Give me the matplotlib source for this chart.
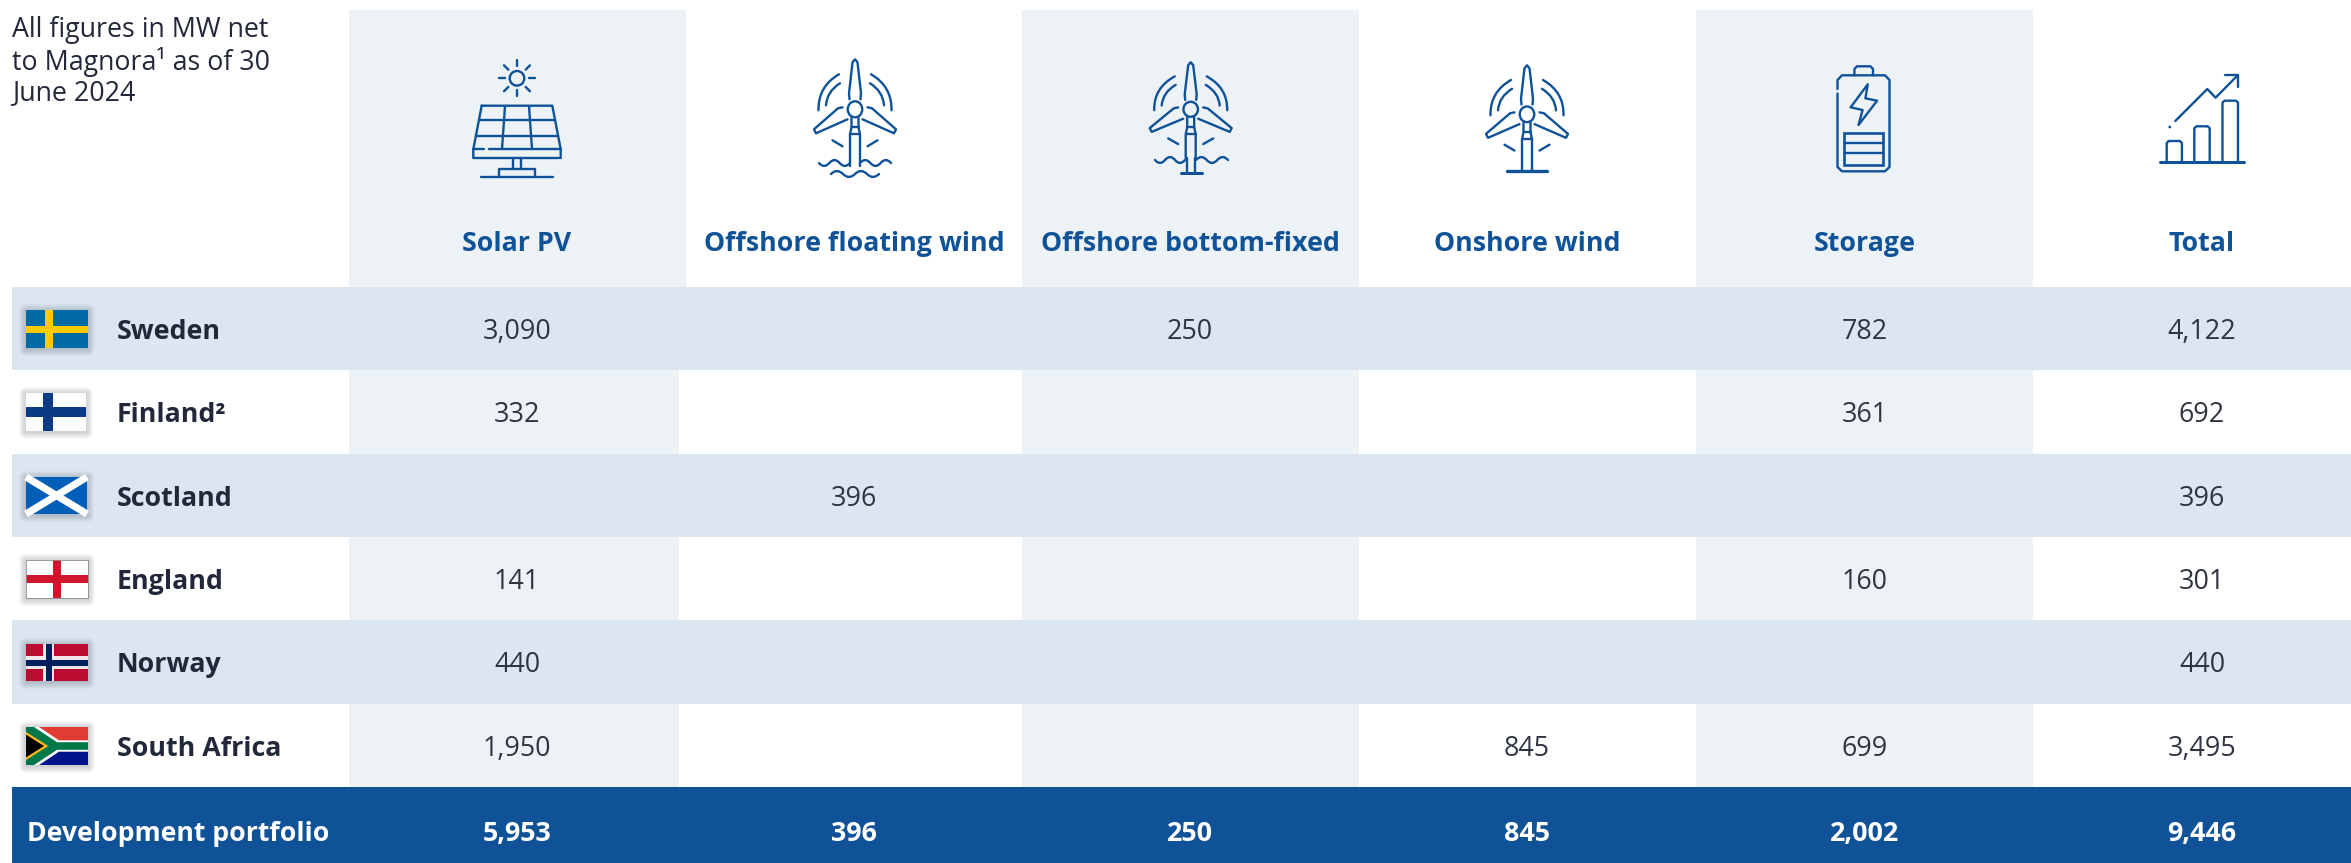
import matplotlib
matplotlib.use("Agg")
import matplotlib.pyplot as plt
from matplotlib.patches import Rectangle, Polygon, Ellipse, Circle, PathPatch, FancyBboxPatch
from matplotlib.path import Path

plt.rcParams['font.family'] = ['Open Sans', 'DejaVu Sans']

columns = ["Solar PV", "Offshore floating wind", "Offshore bottom-fixed", "Onshore wind", "Storage", "Total"]
countries = ["Sweden", "Finland²", "Scotland", "England", "Norway", "South Africa"]
solar = [3090, 332, None, 141, 440, 1950]
floating = [None, None, 396, None, None, None]
bottom = [250, None, None, None, None, None]
onshore = [None, None, None, None, None, 845]
storage = [782, 361, None, 160, None, 699]
total = [4122, 692, 396, 301, 440, 3495]
portfolio_label = "Development portfolio"
portfolio = [5953, 396, 250, 845, 2002, 9446]
note = "All figures in MW net\nto Magnora¹ as of 30\nJune 2024"

W, H = 2351, 863
BLUE = '#0F5298'
INK = '#22283A'
HEAD = '#EDF2F7'
STRIPE = '#DCE6F0'
LW = 1.7

fig = plt.figure(figsize=(W / 100, H / 100), dpi=100)
ax = fig.add_axes([0, 0, 1, 1])
ax.set_xlim(0, W)
ax.set_ylim(H, 0)
ax.axis('off')

col_cx = [517, 854, 1190, 1527, 1865, 2202]
row_edges = [287, 370, 454, 537, 620, 704, 787]
head_bands = [(349, 686), (1022, 1359), (1696, 2033)]
row_bands = [(349, 679), (1022, 1359), (1696, 2033)]

for a, b in head_bands:
    ax.add_patch(Rectangle((a, 10), b - a, 277, fc=HEAD, ec='none', zorder=1))
for a, b in row_bands:
    ax.add_patch(Rectangle((a, 287), b - a, 500, fc=HEAD, ec='none', zorder=1))
for i in range(0, 6, 2):
    ax.add_patch(Rectangle((12, row_edges[i]), W - 12, row_edges[i + 1] - row_edges[i], fc=STRIPE, ec='none', zorder=2))
ax.add_patch(Rectangle((12, 787), W - 12, 76, fc=BLUE, ec='none', zorder=2))

ax.text(12, 16, note, fontsize=19.3, color=INK, va='top', ha='left', linespacing=1.11, zorder=5)

for name, x in zip(columns, col_cx):
    ax.text(x, 244, name, fontsize=19.3, fontweight='bold', color=BLUE, ha='center', va='center', zorder=5)

series = [solar, floating, bottom, onshore, storage, total]
for r, c in enumerate(countries):
    y = (row_edges[r] + row_edges[r + 1]) / 2 + 3
    ax.text(117, y, c, fontsize=19.3, fontweight='bold', color=INK, ha='left', va='center', zorder=5)
    for s, x in zip(series, col_cx):
        if s[r] is not None:
            ax.text(x, y, f"{s[r]:,}", fontsize=19.4, color='#2E3440', ha='center', va='center', zorder=5)
ax.text(27, 834, portfolio_label, fontsize=19.2, fontweight='bold', color='white', ha='left', va='center', zorder=5)
for v, x in zip(portfolio, col_cx):
    ax.text(x, 834, f"{v:,}", fontsize=19.4, fontweight='bold', color='white', ha='center', va='center', zorder=5)


# ---------- icon helpers ----------
def line(pts, lw=LW):
    xs, ys = zip(*pts)
    ax.plot(xs, ys, color=BLUE, lw=lw, solid_capstyle='round', solid_joinstyle='round', zorder=5)


def curve(p0, ctrl, p1, lw=LW):
    path = Path([p0, ctrl, p1], [Path.MOVETO, Path.CURVE3, Path.CURVE3])
    ax.add_patch(PathPatch(path, fc='none', ec=BLUE, lw=lw, capstyle='round', zorder=5))


def wave(x0, x1, y, amp, n):
    step = (x1 - x0) / n
    verts = [(x0, y)]
    codes = [Path.MOVETO]
    for i in range(n):
        s = amp if i % 2 == 0 else -amp
        verts += [(x0 + (i + .5) * step, y + 2 * s), (x0 + (i + 1) * step, y)]
        codes += [Path.CURVE3, Path.CURVE3]
    ax.add_patch(PathPatch(Path(verts, codes), fc='none', ec=BLUE, lw=LW, capstyle='round', zorder=5))


def turbine(cx, hy, sy=1.0):
    def P(x, y):
        return (cx + x, hy + y * sy)
    # top blade
    line([P(-5.5, -10), P(-6, -16), P(-2.5, -47), P(0, -50), P(2.5, -47), P(6, -16), P(5.5, -10)])
    for m in (-1, 1):
        # side blades
        line([P(m * 12.5, -2), P(m * 17, -1), P(m * 41, 20), P(m * 39, 24), P(m * 7.5, 10)])
        # arcs
        curve(P(m * 36.5, 1), P(m * 37, -23), P(m * 16, -35))
        curve(P(m * 29, -4), P(m * 28, -18), P(m * 15, -26))
        # lower ticks
        line([P(m * 22.5, 31), P(m * 12.5, 37)])
    ax.add_patch(Ellipse((cx, hy), 14.5, 16 * sy, fc='none', ec=BLUE, lw=LW, zorder=5))


def tower(cx, hy, bottom_y):
    line([(cx - 3.5, hy + 8), (cx - 3.5, hy + 18), (cx - 5, hy + 25), (cx - 5, bottom_y)])
    line([(cx + 3.5, hy + 8), (cx + 3.5, hy + 18), (cx + 5, hy + 25), (cx + 5, bottom_y)])
    line([(cx - 3.5, hy + 18), (cx + 3.5, hy + 18)])
    line([(cx - 5, hy + 25), (cx + 5, hy + 25)])


# ---------- solar icon ----------
sx, sy = 517, 78.3
ax.add_patch(Circle((sx, sy), 7.3, fc='none', ec=BLUE, lw=LW, zorder=5))
for dx, dy in [(0, -1), (0, 1), (1, 0), (-1, 0), (.72, .72), (-.72, .72), (.72, -.72), (-.72, -.72)]:
    line([(sx + 12 * dx, sy + 12 * dy), (sx + 18 * dx, sy + 18 * dy)])
line([(481.7, 105.7), (552.3, 105.7), (560.7, 149.3), (560.7, 158), (473.3, 158), (473.3, 149.3), (481.7, 105.7)])
line([(473.3, 149.3), (484.3, 149.3)])
line([(489.3, 149.3), (560.7, 149.3)])
line([(479, 120), (555, 120)])
line([(476.5, 136), (558, 136)])
line([(505, 106), (502, 149)])
line([(529, 106), (532, 149)])
line([(513.3, 158), (513.3, 168.7)])
line([(520.7, 158), (520.7, 168.7)])
line([(499.3, 176.7), (499.3, 168.7), (535, 168.7), (535, 176.7)])
line([(480.7, 176.7), (553.3, 176.7)])

# ---------- offshore floating ----------
turbine(855, 109.3)
tower(855, 109.3, 166)
wave(819, 850, 163, 3, 3)
wave(860, 891, 163, -3, 3)
wave(831, 879, 174, -3, 4)

# ---------- offshore bottom-fixed ----------
turbine(1190.7, 109.3, 0.94)
tower(1190.7, 109.3, 158)
line([(1186.7, 158), (1186.7, 172.5)])
line([(1194.7, 158), (1194.7, 172.5)])
wave(1155, 1185, 160, 3, 3)
wave(1196, 1228, 160, -3, 3)
line([(1181, 173), (1201.5, 173)], lw=2.2)

# ---------- onshore ----------
turbine(1527, 114.3, 0.98)
tower(1527, 114.3, 171)
line([(1507, 171.5), (1547, 171.5)], lw=2.4)

# ---------- battery ----------
body = [(1837.5, 89), (1837.5, 80), (1842, 75.3), (1885, 75.3), (1889.5, 80), (1889.5, 167),
        (1885, 171.3), (1842, 171.3), (1837.5, 167), (1837.5, 93.5)]
line(body)
line([(1854.4, 75.3), (1854.4, 69), (1857, 66.3), (1870.5, 66.3), (1873, 69), (1873, 75.3)])
bolt = [(1867.8, 84.3), (1850.6, 107.3), (1862.6, 110), (1858.5, 125), (1877.1, 100.7), (1865.4, 98.3)]
ax.add_patch(Polygon(bolt, closed=True, fc='none', ec=BLUE, lw=LW, joinstyle='round', zorder=5))
ax.add_patch(Rectangle((1844, 132.7), 39, 32, fc='none', ec=BLUE, lw=LW + .2, zorder=5))
line([(1844, 143.3), (1883, 143.3)])
line([(1844, 153.3), (1883, 153.3)])

# ---------- total ----------
line([(2160, 162.3), (2244, 162.3)], lw=2.2)
for x0, x1, top in [(2166.7, 2181.9, 141), (2194.3, 2209.7, 126.3), (2222.5, 2238, 100.7)]:
    line([(x0, 162), (x0, top + 2), (x0 + 2, top), (x1 - 2, top), (x1, top + 2), (x1, 162)])
line([(2175.3, 121), (2207.3, 89), (2215.6, 97.7), (2238, 75)])
line([(2225.2, 75), (2238, 75), (2238, 86.7)])
ax.add_patch(Circle((2169.8, 127), 1.4, fc=BLUE, ec='none', zorder=5))


# ---------- flags ----------
def shadow(x0, y0, x1, y1):
    for k in range(7, 0, -1):
        ax.add_patch(FancyBboxPatch((x0 - k, y0 - k + 1), x1 - x0 + 2 * k, y1 - y0 + 2 * k,
                                    boxstyle=f"round,pad=0,rounding_size={k}",
                                    fc='#20283A', ec='none', alpha=0.03, zorder=3))


def frect(x0, y0, x1, y1, color):
    ax.add_patch(Rectangle((x0, y0), x1 - x0, y1 - y0, fc=color, ec='none', zorder=4))


# Sweden
shadow(26, 310, 88, 348)
frect(26, 310, 88, 348, '#006AA7')
frect(45.3, 310, 53.3, 348, '#FECC00')
frect(26, 326, 88, 333.3, '#FECC00')
# Finland
shadow(26, 393, 86, 431)
frect(26, 393, 86, 431, '#FDFDFD')
frect(42.7, 393, 52.7, 431, '#0B3A86')
frect(26, 406.7, 86, 416.7, '#0B3A86')
# Scotland
shadow(26, 477, 87, 514)
frect(26, 477, 87, 514, '#005EB8')
clip = Rectangle((26, 477), 61, 37, transform=ax.transData)
for pts in ([(26, 477), (87, 514)], [(26, 514), (87, 477)]):
    xs, ys = zip(*pts)
    ax.plot(xs, ys, color='white', lw=5.2, solid_capstyle='butt', zorder=4.5, clip_path=clip)
# England
shadow(26, 560, 88, 598)
frect(26, 560, 88, 598, 'white')
frect(53.3, 560, 61, 598, '#CF142B')
frect(26, 575, 88, 583, '#CF142B')
ax.add_patch(Rectangle((26, 560), 62, 38, fc='none', ec='#8A8A8A', lw=.6, zorder=4.6))
# Norway
shadow(26, 644, 88, 681)
frect(26, 644, 88, 681, '#BA0C2F')
frect(43.3, 644, 54, 681, '#F2E6EA')
frect(26, 656, 88, 669.3, '#F2E6EA')
frect(46, 644, 51.7, 681, '#00205B')
frect(26, 660.3, 88, 665.7, '#00205B')
# South Africa
shadow(26, 727, 88, 765)
fx0, fy0, fw, fh = 26, 727, 62, 38
frect(fx0, fy0, fx0 + fw, fy0 + fh / 2, '#E03C31')
frect(fx0, fy0 + fh / 2, fx0 + fw, fy0 + fh, '#001489')
layers = [
    ('white', [(0, 0), (.21, 0), (.53, .35), (1, .35), (1, .65), (.53, .65), (.21, 1), (0, 1)]),
    ('#007749', [(0, 0), (.13, 0), (.5, .40), (1, .40), (1, .60), (.5, .60), (.13, 1), (0, 1)]),
    ('#FFB81C', [(0, .13), (.36, .5), (0, .87)]),
    ('black', [(0, .2), (.29, .5), (0, .8)]),
]
for color, pts in layers:
    ax.add_patch(Polygon([(fx0 + u * fw, fy0 + v * fh) for u, v in pts], closed=True,
                         fc=color, ec='none', zorder=4.3))

fig.savefig('out.png', dpi=100)
